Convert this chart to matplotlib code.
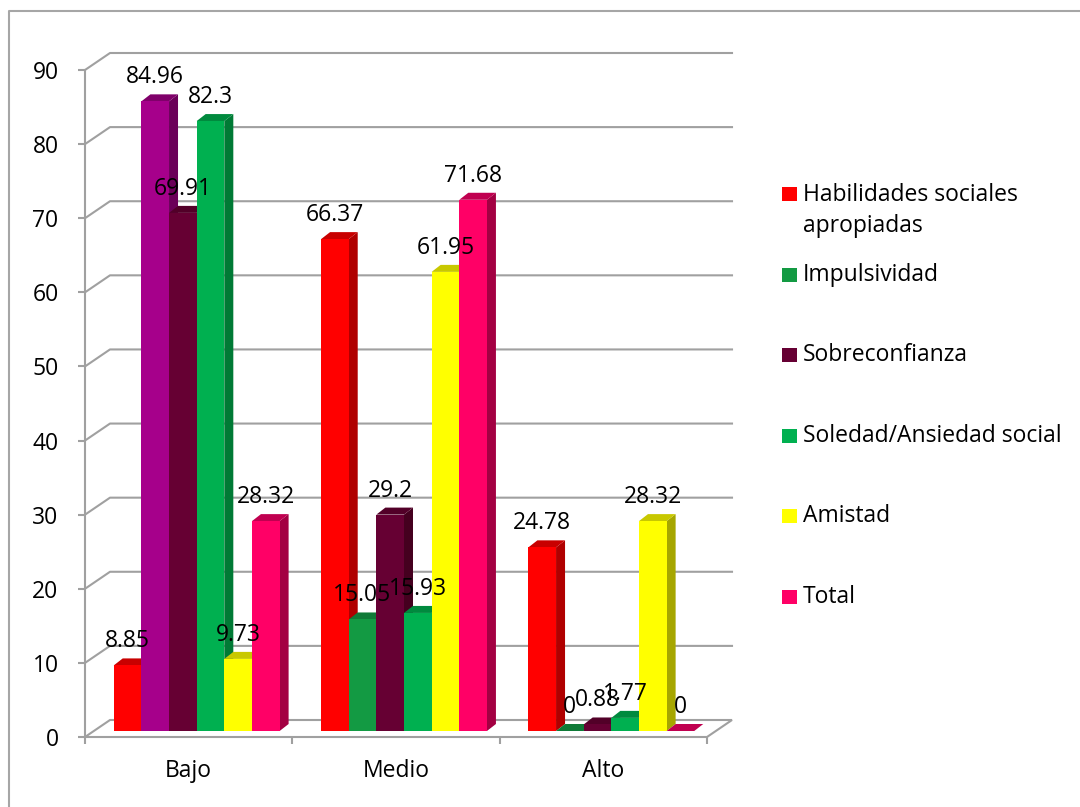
import matplotlib.pyplot as plt
from matplotlib.patches import Polygon
from matplotlib.lines import Line2D

plt.rcParams['font.family'] = ['Open Sans', 'DejaVu Sans']

# data
categories = ['Bajo', 'Medio', 'Alto']
series = ['Habilidades sociales\napropiadas', 'Impulsividad', 'Sobreconfianza',
          'Soledad/Ansiedad social', 'Amistad', 'Total']
habilidades = [8.85, 66.37, 24.78]
impulsividad = [84.96, 15.05, 0]
sobreconfianza = [69.91, 29.2, 0.88]
soledad = [82.3, 15.93, 1.77]
amistad = [9.73, 61.95, 28.32]
total = [28.32, 71.68, 0]
values = [habilidades, impulsividad, sobreconfianza, soledad, amistad, total]

# (front, side, top) shades for each series
colors = [('#ff0000', '#b00000', '#c80000'),
          ('#139a43', '#0c6b2f', '#0f7a37'),
          ('#660033', '#45001f', '#520028'),
          ('#00b050', '#007a35', '#008a3e'),
          ('#ffff00', '#a6a600', '#c8c800'),
          ('#ff0066', '#a30042', '#c00050')]
# the Bajo / Impulsividad bar was recoloured in the original
special = {(1, 0): ('#a6008b', '#6b0059', '#80006a')}

grey = '#a0a0a0'
fs = 16.5

fig = plt.figure(figsize=(10.8, 8.07), dpi=100)
ax_w_px, ax_h_px = 622, 667
ax = fig.add_axes([85 / 1080, 70 / 807, ax_w_px / 1080, ax_h_px / 807])
ax.set_xlim(0, 3)
ax.set_ylim(0, 90)
ax.set_facecolor('none')

# pixel -> data helpers
px_x = 3 / ax_w_px
px_y = 90 / ax_h_px

# 3d offsets
wall_dx, wall_dy = 25 * px_x, 17 * px_y
bar_ox, bar_oy = 8 * px_x, 6 * px_y
bar_dx, bar_dy = 9 * px_x, 7 * px_y

# floor
floor = Polygon([(0, 0), (3, 0), (3 + wall_dx, wall_dy), (wall_dx, wall_dy)],
                closed=True, facecolor='white', edgecolor=grey, lw=1.5,
                clip_on=False, zorder=1)
ax.add_patch(floor)

# back wall gridlines
for g in range(10, 100, 10):
    ax.plot([0, wall_dx, 3 + wall_dx], [g, g + wall_dy, g + wall_dy],
            color=grey, lw=1.5, clip_on=False, zorder=1)

# bars
w = 0.8 / 6
for j, vals in enumerate(values):
    xs = [i + 0.5 - 3 * w + j * w + bar_ox for i in range(len(categories))]
    fronts = []
    for i, v in enumerate(vals):
        front, side, top = special.get((j, i), colors[j])
        fronts.append(front)
        x0 = xs[i]
        y0 = bar_oy
        ax.add_patch(Polygon([(x0 + w, y0), (x0 + w, y0 + v),
                              (x0 + w + bar_dx, y0 + v + bar_dy), (x0 + w + bar_dx, y0 + bar_dy)],
                             closed=True, facecolor=side, edgecolor='none', zorder=3 + 2 * j))
        ax.add_patch(Polygon([(x0, y0 + v), (x0 + w, y0 + v),
                              (x0 + w + bar_dx, y0 + v + bar_dy), (x0 + bar_dx, y0 + v + bar_dy)],
                             closed=True, facecolor=top, edgecolor='none', zorder=3 + 2 * j))
    ax.bar(xs, vals, width=w, bottom=bar_oy, align='edge', color=fronts,
           edgecolor='none', zorder=4 + 2 * j)
    for i, v in enumerate(vals):
        ax.text(xs[i] + w / 2, bar_oy + v + 18 * px_y, '{:g}'.format(v),
                ha='center', va='baseline', fontsize=fs, zorder=30)

# axes styling
for s in ['top', 'right', 'bottom']:
    ax.spines[s].set_visible(False)
ax.spines['left'].set_color(grey)
ax.spines['left'].set_linewidth(1.5)
ax.set_yticks(range(0, 100, 10))
ax.tick_params(axis='y', length=5, width=1.5, color=grey, pad=14, labelsize=fs)
ax.set_xticks([0, 1, 2, 3], minor=True)
ax.set_xticks([0.5, 1.5, 2.5])
ax.set_xticklabels(categories)
ax.tick_params(axis='x', which='minor', length=5, width=1.5, color=grey, direction='out')
ax.tick_params(axis='x', which='major', length=0, pad=16, labelsize=fs)

# legend
def fx(px):
    return px / 1080

def fy(py):
    return 1 - py / 807

rows = [194, 275, 355, 436, 516, 597]
for j, name in enumerate(series):
    yc = rows[j]
    fig.patches.append(plt.Rectangle((fx(782), fy(yc + 7)), fx(15), 14 / 807,
                                     transform=fig.transFigure, facecolor=colors[j][0],
                                     edgecolor='none'))
    if '\n' in name:
        fig.text(fx(803), fy(yc + 16.5), name, ha='left', va='center', fontsize=fs,
                 linespacing=1.35)
    else:
        fig.text(fx(803), fy(yc), name, ha='left', va='center', fontsize=fs)

# chart border
fig.add_artist(Line2D([fx(9), fx(9), 1.01], [-0.01, fy(11), fy(11)],
                      transform=fig.transFigure, color='#a6a6a6', lw=1.5))

fig.savefig('out.png', dpi=100)
